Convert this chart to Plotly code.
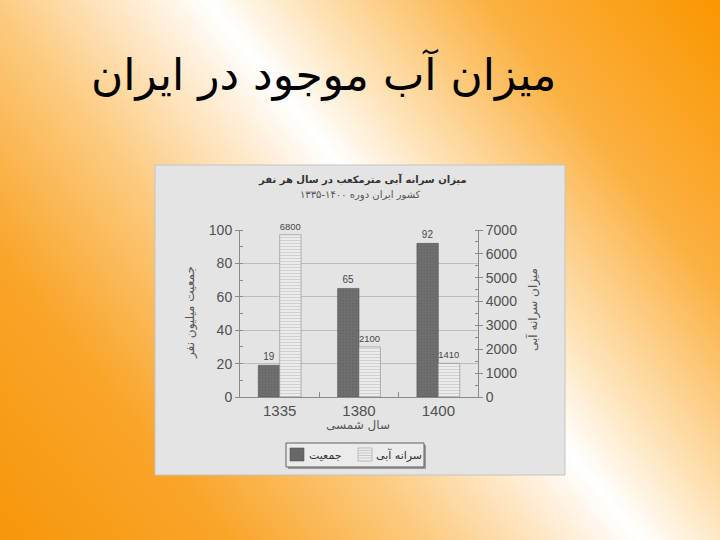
import base64
import plotly.graph_objects as go

# ---- data ----
years = ["1335", "1380", "1400"]
population = [19, 65, 92]              # million people (left axis)
water_per_capita = [6800, 2100, 1410]  # m3 per person per year (right axis)
left_ticks = [0, 20, 40, 60, 80, 100]
right_ticks = [0, 1000, 2000, 3000, 4000, 5000, 6000, 7000]
series_names = ["جمعیت", "سرانه آبی"]

W, H = 720, 540
FA = "DejaVu Sans"
NUM = "Liberation Sans, Arial, sans-serif"

# ---- gradient slide background as an inline SVG ----
svg = f"""<svg xmlns='http://www.w3.org/2000/svg' width='{W}' height='{H}' viewBox='0 0 {W} {H}' preserveAspectRatio='none'>
<defs><linearGradient id='g' gradientUnits='userSpaceOnUse' x1='38' y1='587' x2='739' y2='24'>
<stop offset='0' stop-color='#f7960a'/>
<stop offset='0.2' stop-color='#f9a52a'/>
<stop offset='0.37' stop-color='#fccb80'/>
<stop offset='0.5' stop-color='#ffeed8'/>
<stop offset='0.555' stop-color='#ffffff'/>
<stop offset='0.64' stop-color='#fee3b8'/>
<stop offset='0.8' stop-color='#fbb040'/>
<stop offset='1' stop-color='#fa9600'/>
</linearGradient></defs>
<rect x='0' y='0' width='{W}' height='{H}' fill='url(#g)'/></svg>"""
bg_src = "data:image/svg+xml;base64," + base64.b64encode(svg.encode()).decode()


def px(x):
    return x / W


def py(y):
    return (H - y) / H


fig = go.Figure()
fig.add_trace(go.Bar(
    x=years, y=population, name=series_names[0], yaxis="y", offsetgroup="1",
    marker=dict(color="#6a6a6a", line=dict(color="#555555", width=0.6),
                pattern=dict(shape=".", fgcolor="#585858", bgcolor="#707070", size=3, solidity=0.3)),
    text=[str(v) for v in population], textposition="outside",
    textfont=dict(family=NUM, size=10, color="#444444"), cliponaxis=False,
    showlegend=False,
))
fig.add_trace(go.Bar(
    x=years, y=water_per_capita, name=series_names[1], yaxis="y2", offsetgroup="2",
    marker=dict(color="#e6e6e6", line=dict(color="#8a8a8a", width=0.6),
                pattern=dict(shape="-", fgcolor="#b0b0b0", bgcolor="#ececec", size=3, solidity=0.3)),
    text=[str(v) for v in water_per_capita], textposition="outside",
    textfont=dict(family=NUM, size=10, color="#444444"), cliponaxis=False,
    showlegend=False,
))

# ---- chart panel and hand-drawn legend (box, swatches) ----
shapes = [
    dict(type="rect", xref="paper", yref="paper",
         x0=px(155), x1=px(565), y0=py(475), y1=py(165),
         fillcolor="#e4e4e4", line=dict(color="#c4c4c4", width=1), layer="below"),
    dict(type="rect", xref="paper", yref="paper", x0=px(288), x1=px(426), y0=py(469), y1=py(445),
         fillcolor="#9a9a9a", line=dict(width=0), layer="above"),
    dict(type="rect", xref="paper", yref="paper", x0=px(286), x1=px(424), y0=py(467), y1=py(443),
         fillcolor="#ebebeb", line=dict(color="#606060", width=1), layer="above"),
    dict(type="rect", xref="paper", yref="paper", x0=px(290), x1=px(304), y0=py(461), y1=py(448),
         fillcolor="#676767", line=dict(color="#555555", width=0.6), layer="above"),
    dict(type="rect", xref="paper", yref="paper", x0=px(358), x1=px(372), y0=py(461), y1=py(448),
         fillcolor="#eeeeee", line=dict(color="#999999", width=0.6), layer="above"),
]
for yy in (450.5, 453, 455.5, 458):
    shapes.append(dict(type="line", xref="paper", yref="paper", x0=px(358.5), x1=px(371.5),
                       y0=py(yy), y1=py(yy), line=dict(color="#b5b5b5", width=0.7), layer="above"))

axis_col = "#8a8a8a"
fig.update_layout(
    width=W, height=H,
    margin=dict(l=0, r=0, t=0, b=0),
    paper_bgcolor="#ffffff",
    plot_bgcolor="rgba(0,0,0,0)",
    barmode="group", bargap=0.46, bargroupgap=0,
    showlegend=False,
    xaxis=dict(domain=[px(240), px(478)], type="category",
               showline=True, linecolor=axis_col, linewidth=1,
               ticks="inside", ticklen=5, tickcolor=axis_col, tickson="boundaries",
               tickfont=dict(family=NUM, size=15, color="#505050"),
               showgrid=False, automargin=False),
    yaxis=dict(domain=[py(397), py(230)], range=[0, 100], tickvals=left_ticks,
               showline=True, linecolor=axis_col, linewidth=1,
               ticks="outside", ticklen=4, tickcolor=axis_col,
               minor=dict(dtick=10, ticks="inside", ticklen=3, tickcolor=axis_col, showgrid=False),
               tickfont=dict(family=NUM, size=14, color="#505050"),
               showgrid=True, gridcolor="#bdbdbd", gridwidth=1,
               zeroline=False, automargin=False),
    yaxis2=dict(overlaying="y", side="right", anchor="x", range=[0, 7000], tickvals=right_ticks,
                showline=True, linecolor=axis_col, linewidth=1,
                ticks="outside", ticklen=4, tickcolor=axis_col,
                minor=dict(dtick=500, ticks="inside", ticklen=3, tickcolor=axis_col, showgrid=False),
                tickfont=dict(family=NUM, size=14, color="#505050"),
                showgrid=False, zeroline=False, automargin=False),
    images=[dict(source=bg_src, xref="paper", yref="paper", x=0, y=1, sizex=1, sizey=1,
                 xanchor="left", yanchor="top", sizing="stretch", layer="below")],
    shapes=shapes,
    annotations=[
        dict(text="میزان آب موجود در ایران", xref="paper", yref="paper",
             x=px(323), y=py(75), xanchor="center", yanchor="middle", showarrow=False,
             font=dict(family=FA, size=44, color="#000000")),
        dict(text="<b>میزان سرانه آبی مترمکعب در سال هر نفر</b>", xref="paper", yref="paper",
             x=px(362), y=py(179), xanchor="center", yanchor="middle", showarrow=False,
             font=dict(family=FA, size=10, color="#333333")),
        dict(text="کشور ایران دوره ۱۴۰۰-۱۳۳۵", xref="paper", yref="paper",
             x=px(360), y=py(195), xanchor="center", yanchor="middle", showarrow=False,
             font=dict(family=FA, size=10, color="#555555")),
        dict(text="جمعیت میلیون نفر", xref="paper", yref="paper",
             x=px(190), y=py(313), xanchor="center", yanchor="middle", showarrow=False,
             textangle=-90, font=dict(family=FA, size=12, color="#555555")),
        dict(text="میزان سرانه آبی", xref="paper", yref="paper",
             x=px(533), y=py(310), xanchor="center", yanchor="middle", showarrow=False,
             textangle=-90, font=dict(family=FA, size=12, color="#555555")),
        dict(text="سال شمسی", xref="paper", yref="paper",
             x=px(358), y=py(425), xanchor="center", yanchor="middle", showarrow=False,
             font=dict(family=FA, size=12, color="#555555")),
        dict(text=series_names[0], xref="paper", yref="paper",
             x=px(325), y=py(455), xanchor="center", yanchor="middle", showarrow=False,
             font=dict(family=FA, size=11, color="#333333")),
        dict(text=series_names[1], xref="paper", yref="paper",
             x=px(399), y=py(455), xanchor="center", yanchor="middle", showarrow=False,
             font=dict(family=FA, size=11, color="#333333")),
    ],
)

fig.write_html("out.html", config={"displayModeBar": False},
               post_script="document.body.style.margin='0';document.body.style.overflow='hidden';")
